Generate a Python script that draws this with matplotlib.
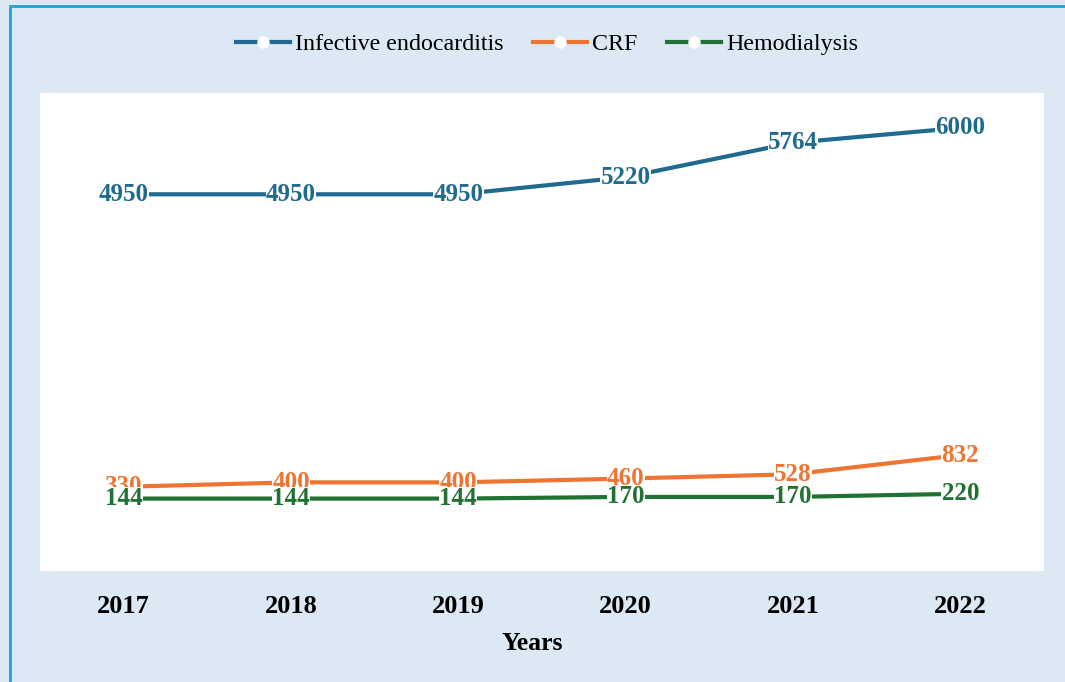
import matplotlib.pyplot as plt
from matplotlib.patches import Rectangle

years = ['2017', '2018', '2019', '2020', '2021', '2022']
endocarditis = [4950, 4950, 4950, 5220, 5764, 6000]
crf = [330, 400, 400, 460, 528, 832]
hemodialysis = [144, 144, 144, 170, 170, 220]

series = [
    ('Infective endocarditis', endocarditis, '#1f6a8e'),
    ('CRF', crf, '#ed7431'),
    ('Hemodialysis', hemodialysis, '#217232'),
]

plt.rcParams['font.family'] = ['Liberation Serif', 'DejaVu Serif']

fig = plt.figure(figsize=(10.65, 6.82), dpi=100)
fig.patch.set_facecolor('#dce9f5')
fig.patches.append(Rectangle((10 / 1065, -0.05), 1.1, 1 - 6 / 682 + 0.05,
                             transform=fig.transFigure, fill=False,
                             edgecolor='#22a0db', linewidth=2))

ax = fig.add_axes([40 / 1065, 1 - 571 / 682, 1004 / 1065, 478 / 682])
ax.set_facecolor('white')
x = range(len(years))
for name, vals, col in series:
    ax.plot(x, vals, color=col, linewidth=3, marker='o', markersize=8,
            markerfacecolor='white', markeredgecolor='white', label=name)
    for xi, v in zip(x, vals):
        ax.text(xi, v, str(v), color=col, fontsize=18, fontweight='bold',
                ha='center', va='center',
                bbox=dict(facecolor='white', edgecolor='none', pad=0.2))

ax.set_xlim(-0.5, 5.5)
ax.set_ylim(-1000, 6550)
ax.set_xticks(list(x))
ax.set_xticklabels(years, fontsize=19, fontweight='bold')
ax.tick_params(axis='x', length=0, pad=17.5)
ax.set_yticks([])
for s in ax.spines.values():
    s.set_visible(False)
ax.set_xlabel('Years', fontsize=18.5, fontweight='bold', va='center')
ax.xaxis.set_label_coords((532 - 40) / 1004, -(643 - 571) / 478)

fig.legend(loc='center', bbox_to_anchor=(547 / 1065, 1 - 44 / 682), ncol=3,
           frameon=False, fontsize=17.3, handlelength=2.25, columnspacing=1.25,
           handletextpad=0.2)

fig.savefig('out.png', dpi=100, facecolor=fig.get_facecolor())
